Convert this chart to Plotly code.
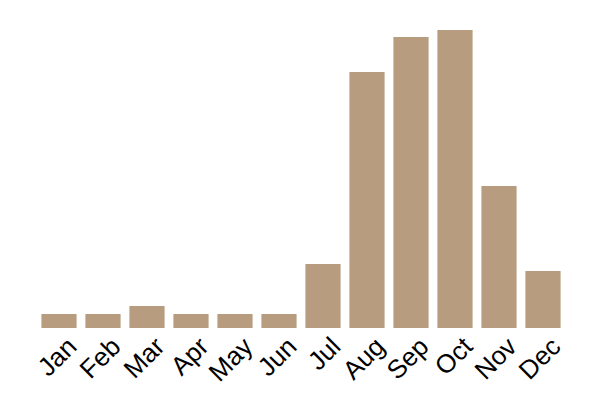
import plotly.graph_objects as go

months = ["Jan", "Feb", "Mar", "Apr", "May", "Jun", "Jul", "Aug", "Sep", "Oct", "Nov", "Dec"]
values = [14, 14, 22, 14, 14, 14, 64, 256, 291, 298, 142, 57]

fig = go.Figure(go.Bar(x=months, y=values, marker=dict(color="#b79c7f", line=dict(width=0))))
fig.update_layout(
    width=600, height=400,
    margin=dict(l=29, r=43, t=22, b=80),
    paper_bgcolor="white", plot_bgcolor="white",
    bargap=0.2,
    showlegend=False,
    font=dict(family="Liberation Sans, Arial, sans-serif", color="black"),
)
fig.update_xaxes(tickangle=-45, tickfont=dict(size=26, family="Liberation Sans"), showgrid=False,
                 showline=False, ticks="", automargin=False, ticklabelshift=10,
                 ticklabelstandoff=-3)
fig.update_yaxes(range=[0, 298], visible=False, showgrid=False, automargin=False)
fig.write_html("out.html")
